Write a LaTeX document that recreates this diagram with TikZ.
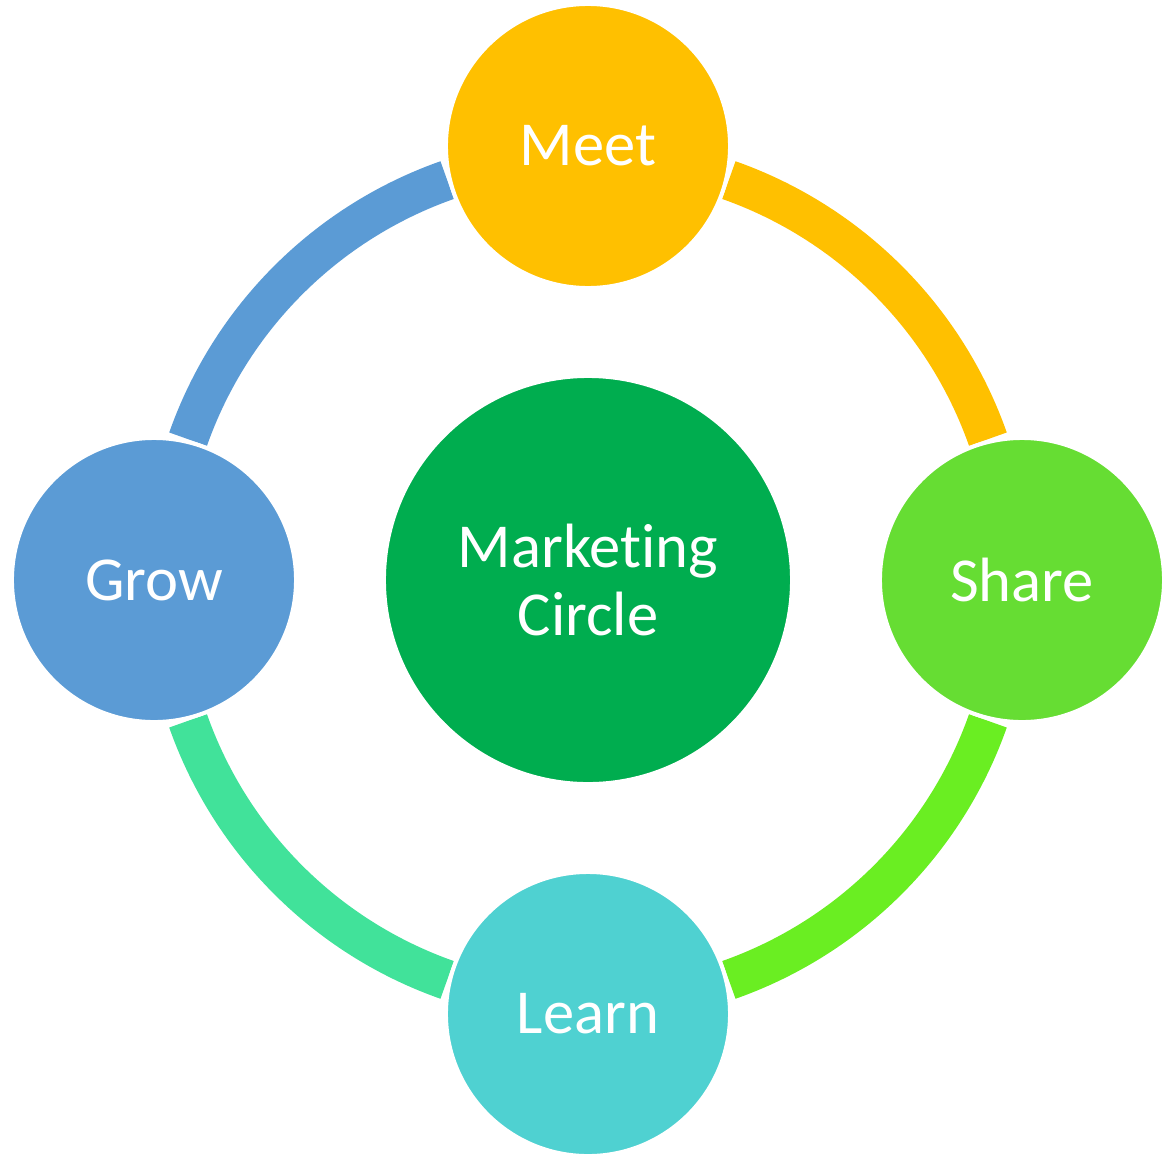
\documentclass[tikz,border=0pt]{standalone}
\usepackage{fontspec}
\setmainfont[Ligatures=NoCommon]{Carlito}
\usepackage{xcolor}
\usepackage{tikz}
\definecolor{CycleGold}{HTML}{FFC000}
\definecolor{CycleLime}{HTML}{66DD33}
\definecolor{CycleBright}{HTML}{6AEE22}
\definecolor{CycleAqua}{HTML}{4FD1D1}
\definecolor{CycleMint}{HTML}{41E29A}
\definecolor{CycleBlue}{HTML}{5B9BD5}
\definecolor{CycleGreen}{HTML}{00AD4F}

\begin{document}
\begin{tikzpicture}[x=0.025cm,y=0.025cm,
    stage/.style={circle,draw=white,line width=0.1cm,minimum size=7.1cm,inner sep=0pt,
                  text=white,font=\fontsize{44.5}{48.5}\selectfont},
    ring/.style={line width=1cm,line cap=butt}]
  \useasboundingbox (-588,-580) rectangle (588,580);
  % hub
  \node[stage,fill=CycleGreen,minimum size=10.2cm,align=center] (hub) at (0,0) {Marketing\\Circle};
  % ring segments between the stages
  \draw[ring,draw=CycleGold]   ([shift={(70.6:424)}]hub.center) arc[start angle=70.6,end angle=19.4,radius=424];
  \draw[ring,draw=CycleBright] ([shift={(-19.4:424)}]hub.center) arc[start angle=-19.4,end angle=-70.6,radius=424];
  \draw[ring,draw=CycleMint]   ([shift={(-109.4:424)}]hub.center) arc[start angle=-109.4,end angle=-160.6,radius=424];
  \draw[ring,draw=CycleBlue]   ([shift={(160.6:424)}]hub.center) arc[start angle=160.6,end angle=109.4,radius=424];
  % stages
  \node[stage,fill=CycleGold] (meet) at (0,434) {Meet};
  \node[stage,fill=CycleLime] (share) at (434,0) {Share};
  \node[stage,fill=CycleAqua] (learn) at (0,-434) {Learn};
  \node[stage,fill=CycleBlue] (grow) at (-434,0) {Grow};
\end{tikzpicture}
\end{document}
